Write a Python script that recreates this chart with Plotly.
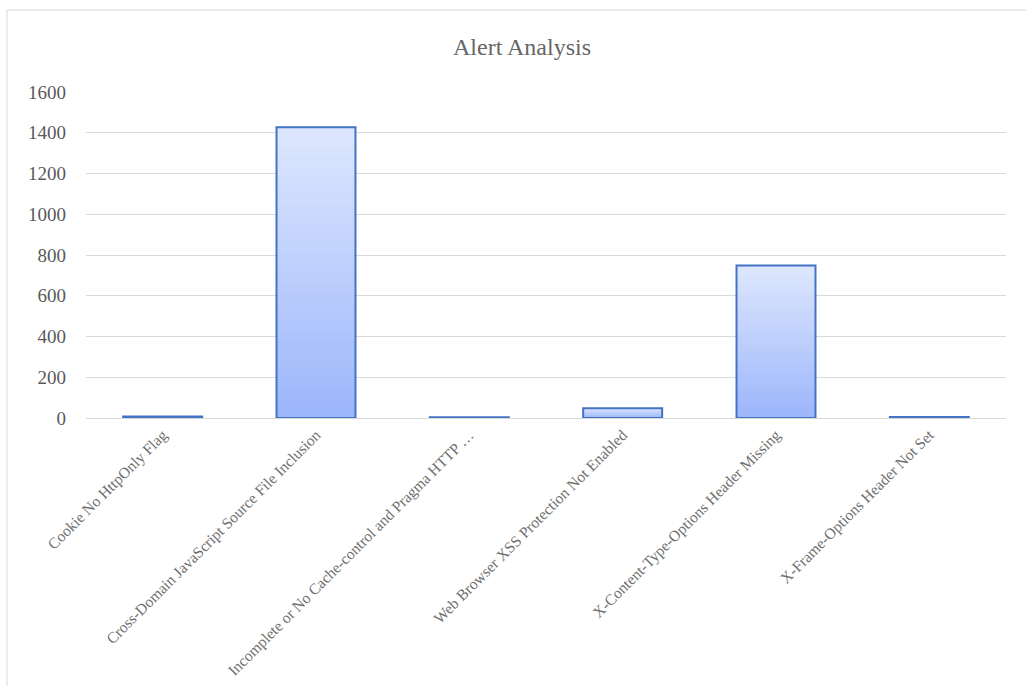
import plotly.graph_objects as go

categories = [
    "Cookie No HttpOnly Flag",
    "Cross-Domain JavaScript Source File Inclusion",
    "Incomplete or No Cache-control and Pragma HTTP …",
    "Web Browser XSS Protection Not Enabled",
    "X-Content-Type-Options Header Missing",
    "X-Frame-Options Header Not Set",
]
alert_counts = [7, 1427, 4, 48, 749, 5]
y_ticks = [0, 200, 400, 600, 800, 1000, 1200, 1400, 1600]

W, H = 1026, 686
ML, MR, MT, MB = 86, 20, 92, 268
PW, PH = W - ML - MR, H - MT - MB

light = (0xDE, 0xE7, 0xFE)
dark = (0x9C, 0xB6, 0xFB)
N = 30

fig = go.Figure()
# gradient fill made of overlaid bars (styling only)
for k in range(N):
    frac = 1 - k / N
    t = 1 - (k + 0.5) / N
    c = tuple(round(dark[i] + (light[i] - dark[i]) * t) for i in range(3))
    fig.add_trace(go.Bar(
        x=categories, y=[v * frac for v in alert_counts],
        marker=dict(color="rgb(%d,%d,%d)" % c, line=dict(width=0)),
        hoverinfo="skip", showlegend=False,
    ))
# outline
fig.add_trace(go.Bar(
    x=categories, y=alert_counts, name="Alerts",
    marker=dict(color="rgba(0,0,0,0)", line=dict(color="#4472C4", width=2)),
    showlegend=False,
))

fig.update_layout(
    width=W, height=H,
    margin=dict(l=ML, r=MR, t=MT, b=MB),
    barmode="overlay", bargap=0.485,
    paper_bgcolor="white", plot_bgcolor="white",
    font=dict(family="Liberation Serif, Times New Roman, serif", color="#595959"),
    title=dict(text="Alert Analysis", x=(522 - ML) / PW, xref="paper", xanchor="center",
               y=1 - 47 / H, yanchor="middle",
               font=dict(size=24, color="#666666")),
    showlegend=False,
)
fig.update_yaxes(
    range=[0, 1600], tickvals=y_ticks, showgrid=True, gridcolor="#D9D9D9", gridwidth=1,
    zeroline=True, zerolinecolor="#D9D9D9", zerolinewidth=1, showline=False,
    tickfont=dict(size=19, color="#595959"), ticks="", ticklabelstandoff=19,
    automargin=False,
)
fig.update_xaxes(
    tickangle=-45, tickfont=dict(size=15.5, color="#6E6E6E"), showline=False,
    showgrid=False, ticks="", ticklabelstandoff=4, automargin=False,
)
fig.add_shape(type="rect", xref="paper", yref="paper",
              x0=(7 - ML) / PW, x1=(1040 - ML) / PW,
              y0=-(700 - MT - PH) / PH, y1=1 + (MT - 10) / PH,
              line=dict(color="#D9D9D9", width=1), fillcolor="rgba(0,0,0,0)", layer="below")

fig.write_html("out.html")
